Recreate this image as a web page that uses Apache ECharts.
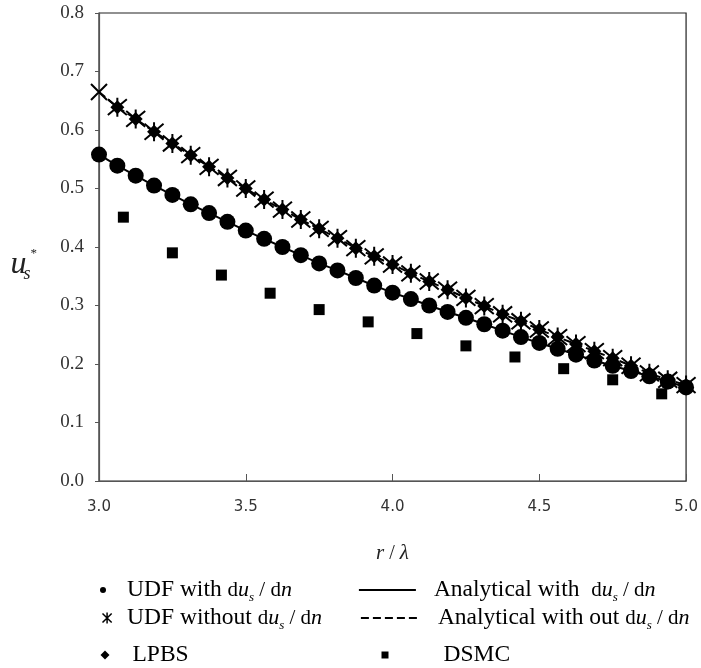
<!DOCTYPE html>
<html>
<head>
<meta charset="utf-8">
<script src="https://cdn.jsdelivr.net/npm/echarts@6/dist/echarts.min.js"></script>
<style>
html,body{margin:0;padding:0;background:#fff;}
#chart{width:701px;height:668px;}
</style>
</head>
<body>
<div id="chart"></div>
<script>
// ---- data ----
const rGrid = [3.0, 3.0625, 3.125, 3.1875, 3.25, 3.3125, 3.375, 3.4375, 3.5, 3.5625, 3.625, 3.6875, 3.75, 3.8125, 3.875, 3.9375, 4.0, 4.0625, 4.125, 4.1875, 4.25, 4.3125, 4.375, 4.4375, 4.5, 4.5625, 4.625, 4.6875, 4.75, 4.8125, 4.875, 4.9375, 5.0];
const udfWith = [0.558, 0.539, 0.522, 0.505, 0.489, 0.473, 0.458, 0.443, 0.428, 0.414, 0.400, 0.386, 0.372, 0.360, 0.347, 0.334, 0.322, 0.311, 0.300, 0.289, 0.279, 0.268, 0.257, 0.246, 0.236, 0.226, 0.216, 0.206, 0.197, 0.188, 0.179, 0.170, 0.160];
const udfWithout = [0.665, 0.639, 0.619, 0.597, 0.577, 0.557, 0.537, 0.518, 0.500, 0.481, 0.464, 0.447, 0.431, 0.415, 0.398, 0.384, 0.370, 0.355, 0.341, 0.327, 0.313, 0.299, 0.285, 0.273, 0.259, 0.246, 0.234, 0.222, 0.210, 0.197, 0.184, 0.173, 0.164];
const lpbsR = [3.0625, 3.125, 3.1875, 3.25, 3.3125, 3.375, 3.4375, 3.5, 3.5625, 3.625, 3.6875, 3.75, 3.8125, 3.875, 3.9375, 4.0, 4.0625, 4.125, 4.1875, 4.25, 4.3125, 4.375, 4.4375, 4.5, 4.5625, 4.625, 4.6875, 4.75, 4.8125, 4.875, 4.9375, 5.0];
const lpbs = [0.639, 0.619, 0.597, 0.577, 0.557, 0.537, 0.518, 0.500, 0.481, 0.464, 0.447, 0.431, 0.415, 0.398, 0.384, 0.370, 0.355, 0.341, 0.327, 0.313, 0.299, 0.285, 0.273, 0.259, 0.246, 0.234, 0.222, 0.210, 0.197, 0.184, 0.173, 0.164];
const anaWith = [0.558, 0.539, 0.522, 0.505, 0.489, 0.473, 0.458, 0.443, 0.428, 0.414, 0.400, 0.386, 0.372, 0.360, 0.347, 0.334, 0.322, 0.311, 0.300, 0.289, 0.279, 0.268, 0.257, 0.246, 0.236, 0.226, 0.216, 0.206, 0.197, 0.188, 0.179, 0.170, 0.160];
const anaWithout = [0.665, 0.639, 0.619, 0.597, 0.577, 0.557, 0.537, 0.518, 0.500, 0.481, 0.464, 0.447, 0.431, 0.415, 0.398, 0.384, 0.370, 0.355, 0.341, 0.327, 0.313, 0.299, 0.285, 0.273, 0.259, 0.246, 0.234, 0.222, 0.210, 0.197, 0.184, 0.173, 0.164];
const dsmcR = [3.083, 3.25, 3.417, 3.583, 3.75, 3.917, 4.083, 4.25, 4.417, 4.583, 4.75, 4.917];
const dsmc = [0.451, 0.390, 0.352, 0.321, 0.293, 0.272, 0.252, 0.231, 0.212, 0.192, 0.173, 0.149];
const xTicks = ['3.0', '3.5', '4.0', '4.5', '5.0'];
const yTicks = ['0.0', '0.1', '0.2', '0.3', '0.4', '0.5', '0.6', '0.7', '0.8'];

const legendText = {
  'UDF with': 'UDF with {m|d}{i|u}{sub|s}{m| / d}{i|n}',
  'UDF without': 'UDF without {m|d}{i|u}{sub|s}{m| / d}{i|n}',
  'LPBS': 'LPBS',
  'Analytical with': 'Analytical with  {m|d}{i|u}{sub|s}{m| / d}{i|n}',
  'Analytical without': 'Analytical with out {m|d}{i|u}{sub|s}{m| / d}{i|n}',
  'DSMC': 'DSMC'
};

const pair = (xs, ys) => xs.map((x, i) => [x, ys[i]]);
const SERIF = 'Liberation Serif, Times New Roman, serif';
const ASTER = 'path://M0,0L20,20M20,0L0,20M10,-2L10,22';
const XMARK = 'path://M0,0L20,20M20,0L0,20';

const rich = {
  m: {fontFamily: SERIF, fontSize: 21, color: '#000', lineHeight: 28},
  i: {fontFamily: SERIF, fontSize: 22, fontStyle: 'italic', color: '#000', lineHeight: 28},
  sub: {fontFamily: SERIF, fontSize: 13, fontStyle: 'italic', color: '#000', verticalAlign: 'bottom', lineHeight: 13}
};

function mkLegend(name, left, centerY, icon, w, h, padLeft, extra) {
  const d = {name: name};
  if (icon) d.icon = icon;
  return Object.assign({
    data: [d],
    left: left, top: centerY - 14,
    itemWidth: w, itemHeight: h,
    selectedMode: false,
    padding: 0,
    formatter: n => legendText[n],
    textStyle: {fontFamily: SERIF, fontSize: 23.5, color: '#000', lineHeight: 28, padding: [0, 0, 0, padLeft], rich: rich}
  }, extra || {});
}

const starData = pair(rGrid, udfWithout);
starData[0] = {value: starData[0], symbol: XMARK, symbolSize: 16};

const option = {
  animation: false,
  backgroundColor: '#fff',
  grid: {left: 99, top: 13, right: 13, bottom: 187, show: true, borderColor: '#222', borderWidth: 1.2, backgroundColor: 'transparent'},
  xAxis: {
    type: 'value', min: 3.0, max: 5.0, interval: 0.5,
    name: '{i|r} / {i|λ}', nameLocation: 'middle', nameGap: 62,
    nameTextStyle: {fontFamily: SERIF, fontSize: 20, color: '#222', rich: {i: {fontFamily: SERIF, fontSize: 21, fontStyle: 'italic', color: '#222'}}},
    axisLine: {show: true, onZero: false, lineStyle: {color: '#555', width: 1.2}},
    axisTick: {show: true, inside: true, length: 7, lineStyle: {color: '#555'}},
    splitLine: {show: false},
    axisLabel: {margin: 19, fontFamily: 'DejaVu Sans', fontSize: 15, color: '#333', formatter: v => xTicks[Math.round((v - 3) / 0.5)]}
  },
  yAxis: {
    type: 'value', min: 0, max: 0.8, interval: 0.1,
    name: '{u|u}{s|s}{st|*}', nameLocation: 'middle', nameRotate: 0, nameGap: 62,
    nameTextStyle: {padding: [36, 0, 0, 0], rich: {
      u: {fontFamily: SERIF, fontSize: 32, fontStyle: 'italic', color: '#222', lineHeight: 36},
      s: {fontFamily: SERIF, fontSize: 18, fontStyle: 'italic', color: '#222', verticalAlign: 'bottom', lineHeight: 18, width: 4},
      st: {fontFamily: SERIF, fontSize: 13, color: '#222', verticalAlign: 'top', lineHeight: 14}
    }},
    axisLine: {show: true, onZero: false, lineStyle: {color: '#555', width: 1.2}},
    axisTick: {show: true, inside: false, length: 4, lineStyle: {color: '#555'}},
    splitLine: {show: false},
    axisLabel: {margin: 15, fontFamily: SERIF, fontSize: 19, color: '#333', formatter: v => yTicks[Math.round(v * 10)]}
  },
  legend: [
    mkLegend('UDF with', 100, 590, 'circle', 6, 6, 16),
    mkLegend('UDF without', 100, 618, ASTER, 10, 11, 10, {itemStyle: {color: 'none', borderColor: '#000', borderWidth: 1.5}}),
    mkLegend('LPBS', 100.5, 655, 'diamond', 9, 9, 18),
    mkLegend('Analytical with', 358, 590, null, 57, 4, 13, {itemStyle: {opacity: 0}, lineStyle: {width: 1.8, type: 'solid'}}),
    mkLegend('Analytical without', 360, 618, null, 57, 4, 15, {itemStyle: {opacity: 0}, lineStyle: {width: 1.8, type: [8, 4]}}),
    mkLegend('DSMC', 381.5, 655, 'rect', 7, 7, 50)
  ],
  series: [
    {name: 'Analytical with', type: 'line', data: pair(rGrid, anaWith), symbol: 'none', z: 2,
     lineStyle: {color: '#000', width: 2, type: 'solid'}, itemStyle: {color: '#000'}},
    {name: 'Analytical without', type: 'line', data: pair(rGrid, anaWithout), symbol: 'none', z: 2,
     lineStyle: {color: '#000', width: 2, type: [8, 4]}, itemStyle: {color: '#000'}},
    {name: 'LPBS', type: 'scatter', data: pair(lpbsR, lpbs), symbol: 'diamond', symbolSize: 14, z: 3,
     itemStyle: {color: '#000', opacity: 1}},
    {name: 'UDF without', type: 'scatter', data: starData, symbol: ASTER, symbolSize: 19, z: 4,
     itemStyle: {color: 'none', borderColor: '#000', borderWidth: 2, opacity: 1}},
    {name: 'UDF with', type: 'scatter', data: pair(rGrid, udfWith), symbol: 'circle', symbolSize: 16, z: 4,
     itemStyle: {color: '#000', opacity: 1}},
    {name: 'DSMC', type: 'scatter', data: pair(dsmcR, dsmc), symbol: 'rect', symbolSize: 11, z: 4,
     itemStyle: {color: '#000', opacity: 1}}
  ]
};

const chart = echarts.init(document.getElementById('chart'), null, {renderer: 'canvas'});
chart.setOption(option);
</script>
</body>
</html>
